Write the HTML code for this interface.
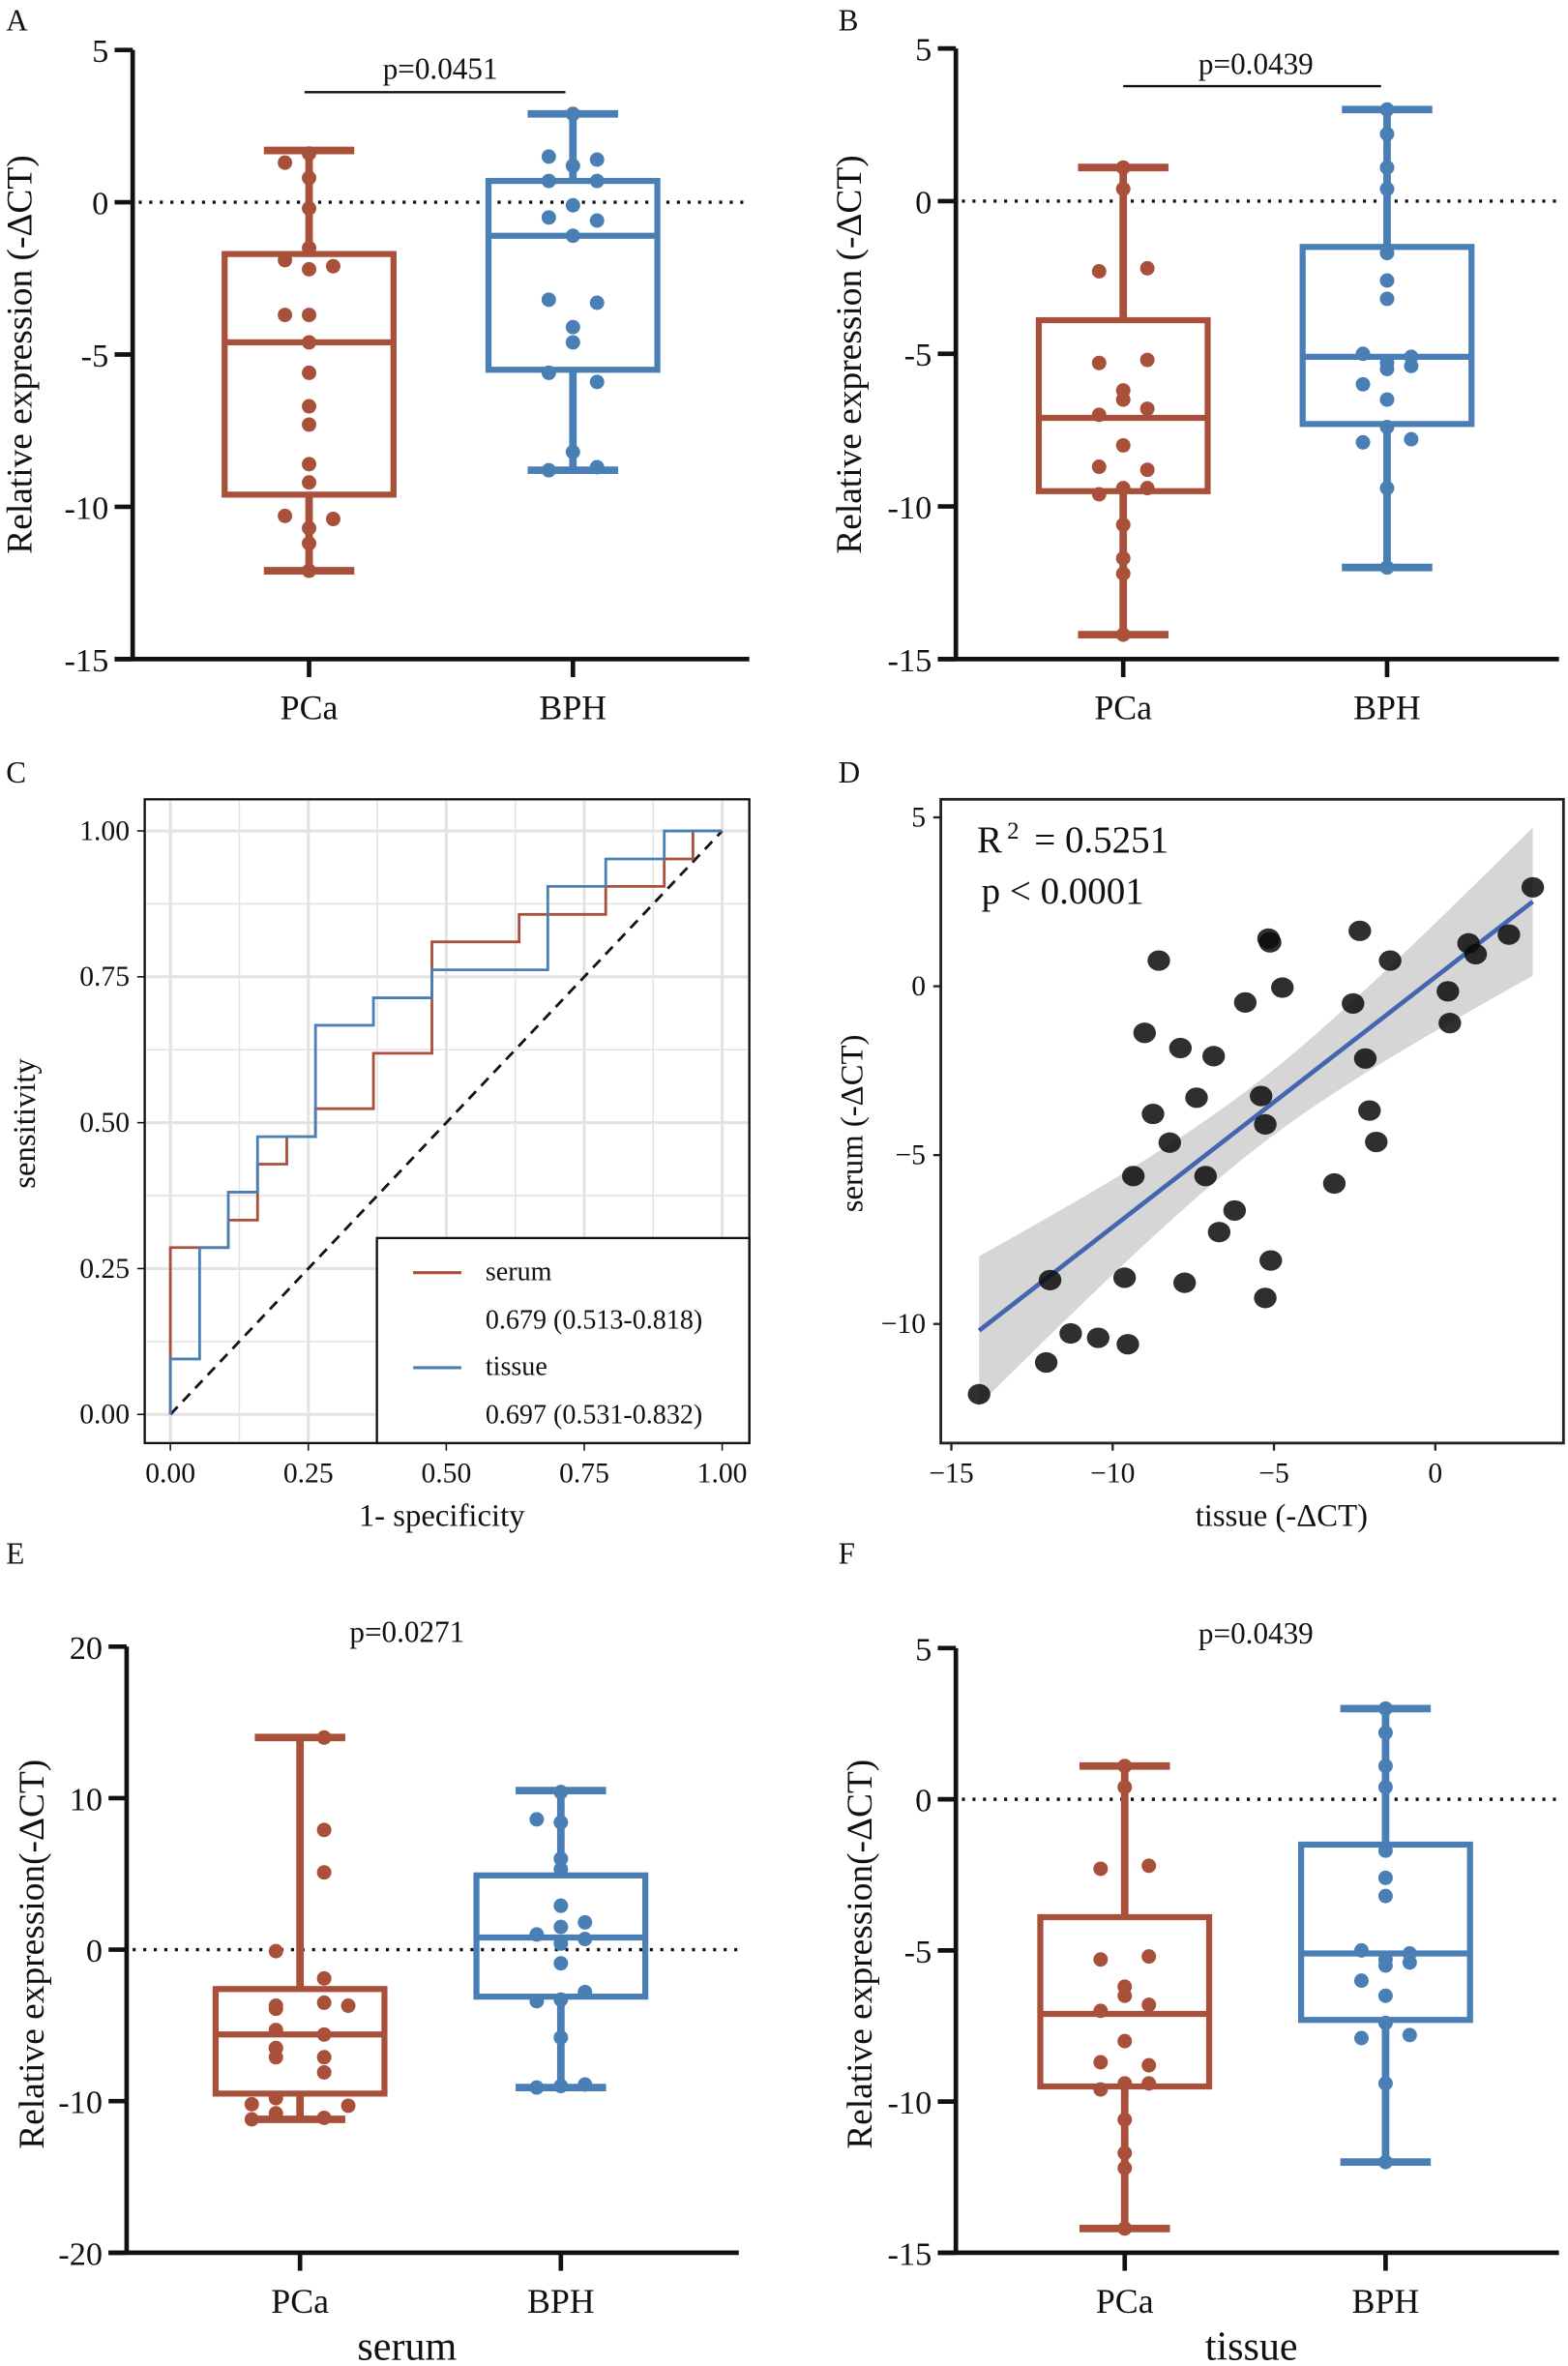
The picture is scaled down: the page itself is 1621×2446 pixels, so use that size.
<!DOCTYPE html>
<html><head><meta charset="utf-8"><style>
html,body{margin:0;padding:0;background:#fff;}
svg{display:block;font-family:"Liberation Serif",serif;}
</style></head><body>
<svg id="fig" width="1621" height="2446" viewBox="0 0 1040 1569" xmlns="http://www.w3.org/2000/svg"></svg>
<script>
// ---------- DATA ----------
const groups = ["PCa","BPH"];
const aPCaStats = [1.7,-1.7,-4.6,-9.6,-12.1];
const aBPHStats = [2.9,0.7,-1.1,-5.5,-8.8];
const aPCaDots = [1.6,1.3,0.8,-0.2,-1.5,-1.9,-2.1,-2.2,-3.7,-3.7,-4.6,-5.6,-6.7,-7.3,-8.6,-9.2,-10.3,-10.4,-10.7,-11.2,-12.1];
const aPCaSide = [0,-1,0,0,0,-1,1,0,-1,0,0,0,0,0,0,0,-1,1,0,0,0];
const aBPHDots = [2.9,1.5,1.2,1.4,0.7,0.7,-0.1,-0.5,-0.6,-1.1,-3.2,-3.3,-4.1,-4.6,-5.6,-5.9,-8.2,-8.8,-8.7];
const aBPHSide = [0,-1,0,1,-1,1,0,-1,1,0,-1,1,0,0,-1,1,0,-1,1];
const bPCaStats = [1.1,-3.9,-7.1,-9.5,-14.2];
const bBPHStats = [3.0,-1.5,-5.1,-7.3,-12.0];
const bPCaDots = [1.1,0.4,-2.3,-2.2,-5.3,-5.2,-6.2,-6.5,-6.8,-7.0,-8.0,-8.7,-8.8,-9.4,-9.6,-9.4,-10.6,-11.7,-12.2,-14.2];
const bPCaSide = [0,0,-1,1,-1,1,0,0,1,-1,0,-1,1,1,-1,0,0,0,0,0];
const bBPHDots = [3.0,2.2,1.1,0.4,-1.7,-2.6,-3.2,-5.0,-5.3,-5.5,-5.1,-5.4,-6.0,-6.5,-7.4,-7.8,-7.9,-9.4,-12.0];
const bBPHSide = [0,0,0,0,0,0,0,-1,0,0,1,1,-1,0,0,1,-1,0,0];
const ePCaStats = [14,-2.6,-5.6,-9.5,-11.2];
const eBPHStats = [10.5,4.9,0.8,-3.1,-9.1];
const ePCaDots = [14,7.9,5.1,-0.1,-1.9,-3.7,-3.9,-3.7,-5.3,-5.6,-6.5,-7.1,-7.1,-8.1,-9.8,-10.2,-10.3,-10.8,-11.1,-11.2,-3.5,-6.5];
const ePCaSide = [1,1,1,-1,1,-1,-1,2,-1,1,-1,-1,1,1,-1,-2,2,-1,1,-2,1,-1];
const eBPHDots = [10.4,8.6,8.4,6.0,5.3,2.9,1.8,1.5,1.0,0.7,0.4,-0.9,-2.8,-3.4,-3.3,-5.8,-9.1,-8.9,-9.0];
const eBPHSide = [0,-1,0,0,0,0,1,0,-1,1,0,0,1,-1,0,0,-1,1,0];
const serumFpr = [0,0,0.105,0.105,0.158,0.158,0.211,0.211,0.263,0.263,0.368,0.368,0.474,0.474,0.632,0.632,0.789,0.789,0.895,0.895,0.947,0.947,1];
const serumTpr = [0,0.286,0.286,0.333,0.333,0.429,0.429,0.476,0.476,0.524,0.524,0.619,0.619,0.81,0.81,0.857,0.857,0.905,0.905,0.952,0.952,1,1];
const tissueFpr = [0,0,0.053,0.053,0.105,0.105,0.158,0.158,0.263,0.263,0.368,0.368,0.474,0.474,0.684,0.684,0.789,0.789,0.895,0.895,1];
const tissueTpr = [0,0.095,0.095,0.286,0.286,0.381,0.381,0.476,0.476,0.667,0.667,0.714,0.714,0.762,0.762,0.905,0.905,0.952,0.952,1,1];
const rocTicks = ["0.00","0.25","0.50","0.75","1.00"];
const tissueX = [-14.14,-12.06,-11.3,-10.45,-9.53,-11.94,-9.63,-7.77,-9.36,-8.23,-8.75,-9.01,-8.57,-7.9,-7.4,-6.87,-7.12,-6.22,-6.7,-5.89,-5.4,-5.27,-5.1,-5.27,-5.17,-5.12,-4.74,-3.13,-2.34,-2.55,-2.17,-2.04,-1.83,-1.4,0.39,0.45,1.03,1.25,2.28,3.02];
const serumY = [-12.08,-11.14,-10.28,-10.41,-10.6,-8.7,-8.63,-8.78,-5.62,-4.63,-3.78,-1.38,0.76,-1.83,-3.3,-2.07,-5.62,-6.64,-7.28,-0.48,-3.25,-4.09,-8.12,-9.23,1.41,1.3,-0.04,-5.84,1.64,-0.51,-2.14,-3.68,-4.61,0.76,-0.15,-1.09,1.27,0.95,1.53,2.93];
const dXTicks = [-15,-10,-5,0];
const dYTicks = [5,0,-5,-10];

const RED="#A9503A", BLUE="#4A7FB5";
const svg=document.getElementById('fig');
const NS="http://www.w3.org/2000/svg";
function el(tag,attrs,parent,name,txt){
  const e=document.createElementNS(NS,tag);
  for(const k in attrs)e.setAttribute(k,attrs[k]);
  
  
  if(txt!==undefined)e.textContent=txt;
  (parent||svg).appendChild(e);return e;
}
function text(x,y,s,size,anchor,name,extra){
  const a=Object.assign({x:x,y:y,'font-size':size,'text-anchor':anchor||'middle',fill:'#111'},extra||{});
  return el('text',a,svg,name,s);
}

function boxPanel(cfg){
  const g=el('g',{},svg,cfg.name);
  const ys=v=>cfg.y0+(cfg.yMax-v)*(cfg.y1-cfg.y0)/(cfg.yMax-cfg.yMin);
  el('line',{x1:cfg.ax,y1:cfg.y0,x2:cfg.ax,y2:cfg.y1,stroke:'#111','stroke-width':3},g,'y-axis');
  el('line',{x1:cfg.ax-12,y1:cfg.y1,x2:cfg.axEnd,y2:cfg.y1,stroke:'#111','stroke-width':3},g,'x-axis');
  cfg.ticks.forEach(t=>{
    el('line',{x1:cfg.ax-12,y1:ys(t),x2:cfg.ax,y2:ys(t),stroke:'#111','stroke-width':3},g,'y-tick');
    el('text',{x:cfg.ax-16,y:ys(t)+8,'font-size':22,'text-anchor':'end',fill:'#111'},g,'y-tick-label',String(t));
  });
  el('line',{x1:cfg.ax+4,y1:ys(0),x2:cfg.axEnd,y2:ys(0),stroke:'#111','stroke-width':2.2,'stroke-dasharray':'2 5'},g,'zero-reference-line');
  const cx=cfg.cx;
  [[cfg.s1,cfg.d1,cfg.side1,RED,'pca'],[cfg.s2,cfg.d2,cfg.side2,BLUE,'bph']].forEach((set,i)=>{
    const [s,d,side,col,nm]=set, x=cx[i];
    el('line',{x1:x,y1:cfg.y1,x2:x,y2:cfg.y1+12,stroke:'#111','stroke-width':3},g,'x-tick');
    el('text',{x:x,y:cfg.y1+40,'font-size':23,'text-anchor':'middle',fill:'#111'},g,'x-tick-label',groups[i]);
    el('line',{x1:x,y1:ys(s[0]),x2:x,y2:ys(s[1]),stroke:col,'stroke-width':5},g,nm+'-upper-whisker');
    el('line',{x1:x,y1:ys(s[3]),x2:x,y2:ys(s[4]),stroke:col,'stroke-width':5},g,nm+'-lower-whisker');
    el('line',{x1:x-30,y1:ys(s[0]),x2:x+30,y2:ys(s[0]),stroke:col,'stroke-width':5},g,nm+'-max-cap');
    el('line',{x1:x-30,y1:ys(s[4]),x2:x+30,y2:ys(s[4]),stroke:col,'stroke-width':5},g,nm+'-min-cap');
    el('rect',{x:x-56,y:ys(s[1]),width:112,height:ys(s[3])-ys(s[1]),fill:'none',stroke:col,'stroke-width':4},g,nm+'-box');
    el('line',{x1:x-56,y1:ys(s[2]),x2:x+56,y2:ys(s[2]),stroke:col,'stroke-width':4},g,nm+'-median');
    d.forEach((v,j)=>{
      el('circle',{cx:x+side[j]*16,cy:ys(v),r:4.8,fill:col},g,nm+'-dot');
    });
  });
}
boxPanel({name:'panel-a',ax:88,axEnd:497,y0:33,y1:437,yMax:5,yMin:-15,ticks:[5,0,-5,-10,-15],cx:[205,380],
  s1:aPCaStats,s2:aBPHStats,d1:aPCaDots,side1:aPCaSide,d2:aBPHDots,side2:aBPHSide});
boxPanel({name:'panel-b',ax:634,axEnd:1034,y0:32,y1:437,yMax:5,yMin:-15,ticks:[5,0,-5,-10,-15],cx:[745,920],
  s1:bPCaStats,s2:bBPHStats,d1:bPCaDots,side1:bPCaSide,d2:bBPHDots,side2:bBPHSide});
boxPanel({name:'panel-e',ax:84,axEnd:490,y0:1092,y1:1494,yMax:20,yMin:-20,ticks:[20,10,0,-10,-20],cx:[199,372],
  s1:ePCaStats,s2:eBPHStats,d1:ePCaDots,side1:ePCaSide,d2:eBPHDots,side2:eBPHSide});
boxPanel({name:'panel-f',ax:634,axEnd:1034,y0:1093,y1:1494,yMax:5,yMin:-15,ticks:[5,0,-5,-10,-15],cx:[746,919],
  s1:bPCaStats,s2:bBPHStats,d1:bPCaDots,side1:bPCaSide,d2:bBPHDots,side2:bBPHSide});

el('line',{x1:202,y1:61,x2:375,y2:61,stroke:'#111','stroke-width':1.5},svg,'significance-bar-a');
text(292,52,'p=0.0451',20,'middle','p-value-a');
el('line',{x1:745,y1:57,x2:916,y2:57,stroke:'#111','stroke-width':1.5},svg,'significance-bar-b');
text(833,49,'p=0.0439',20,'middle','p-value-b');
text(270,1089,'p=0.0271',20,'middle','p-value-e');
text(833,1090,'p=0.0439',20,'middle','p-value-f');
text(270,1565,'serum',27,'middle','x-axis-title-e');
text(830,1565,'tissue',27,'middle','x-axis-title-f');
text(0,0,'Relative expression (-ΔCT)',24,'middle','y-axis-title-a',{transform:'translate(21,235) rotate(-90)'});
text(0,0,'Relative expression (-ΔCT)',24,'middle','y-axis-title-b',{transform:'translate(571,235) rotate(-90)'});
text(0,0,'Relative expression(-ΔCT)',24,'middle','y-axis-title-e',{transform:'translate(29,1296) rotate(-90)'});
text(0,0,'Relative expression(-ΔCT)',24,'middle','y-axis-title-f',{transform:'translate(578,1296) rotate(-90)'});
[['A',4,20],['B',556,20],['C',4,519],['D',556,519],['E',4,1037],['F',556,1037]].forEach(p=>text(p[1],p[2],p[0],20,'start','panel-label-'+p[0].toLowerCase()));

(function(){
  const g=el('g',{},svg,'panel-c');
  const xs=v=>113+v*(479-113), ys=v=>938-v*(938-551);
  for(let i=0;i<=8;i++){
    const v=i/8;
    el('line',{x1:xs(v),y1:531,x2:xs(v),y2:956,stroke:'#e3e3e3','stroke-width':i%2?1:2},g,'grid-line-vertical');
    el('line',{x1:97,y1:ys(v),x2:496,y2:ys(v),stroke:'#e3e3e3','stroke-width':i%2?1:2},g,'grid-line-horizontal');
  }
  el('rect',{x:96,y:530,width:401,height:427,fill:'none',stroke:'#111','stroke-width':1.5},g,'plot-frame');
  rocTicks.forEach((t,i)=>{
    const v=i/4;
    el('line',{x1:xs(v),y1:957,x2:xs(v),y2:962,stroke:'#111'},g,'x-tick');
    el('text',{x:xs(v),y:983,'font-size':19,'text-anchor':'middle',fill:'#111'},g,'x-tick-label',t);
    el('line',{x1:91,y1:ys(v),x2:96,y2:ys(v),stroke:'#111'},g,'y-tick');
    el('text',{x:86,y:ys(v)+6,'font-size':19,'text-anchor':'end',fill:'#111'},g,'y-tick-label',t);
  });
  el('line',{x1:xs(0),y1:ys(0),x2:xs(1),y2:ys(1),stroke:'#111','stroke-width':1.8,'stroke-dasharray':'7 5'},g,'chance-diagonal');
  const pts=(fx,ty)=>fx.map((v,i)=>xs(v)+','+ys(ty[i])).join(' ');
  el('polyline',{points:pts(serumFpr,serumTpr),fill:'none',stroke:RED,'stroke-width':1.8},g,'serum-roc-curve');
  el('polyline',{points:pts(tissueFpr,tissueTpr),fill:'none',stroke:BLUE,'stroke-width':1.8},g,'tissue-roc-curve');
  const lg=el('g',{},g,'legend');
  el('rect',{x:250,y:821,width:247,height:136,fill:'#fff',stroke:'#111','stroke-width':1.5},lg,'legend-box');
  el('line',{x1:274,y1:844,x2:306,y2:844,stroke:RED,'stroke-width':2},lg,'legend-serum-swatch');
  el('text',{x:322,y:849,'font-size':18,fill:'#111'},lg,'legend-serum-label','serum');
  el('text',{x:322,y:881,'font-size':18,fill:'#111'},lg,'legend-serum-auc','0.679 (0.513-0.818)');
  el('line',{x1:274,y1:907,x2:306,y2:907,stroke:BLUE,'stroke-width':2},lg,'legend-tissue-swatch');
  el('text',{x:322,y:912,'font-size':18,fill:'#111'},lg,'legend-tissue-label','tissue');
  el('text',{x:322,y:944,'font-size':18,fill:'#111'},lg,'legend-tissue-auc','0.697 (0.531-0.832)');
  text(293,1012,'1- specificity',21,'middle','x-axis-title-c');
  text(0,0,'sensitivity',21,'middle','y-axis-title-c',{transform:'translate(23,745) rotate(-90)'});
})();

(function(){
  const g=el('g',{},svg,'panel-d');
  const xs=v=>952+v*(952-845)/5, ys=v=>654-v*(766-654)/5;
  const n=tissueX.length, mx=tissueX.reduce((a,b)=>a+b)/n, my=serumY.reduce((a,b)=>a+b)/n;
  let sxx=0,sxy=0; tissueX.forEach((x,i)=>{sxx+=(x-mx)**2;sxy+=(x-mx)*(serumY[i]-my);});
  const b=sxy/sxx,a=my-b*mx;
  let sse=0; tissueX.forEach((x,i)=>{sse+=(serumY[i]-a-b*x)**2;});
  const s=Math.sqrt(sse/(n-2)), t=2.02;
  const xmin=Math.min(...tissueX), xmax=Math.max(...tissueX);
  const up=[],lo=[];
  for(let k=0;k<=40;k++){const x=xmin+(xmax-xmin)*k/40, yh=a+b*x, se=s*Math.sqrt(1/n+(x-mx)**2/sxx);
    up.push(xs(x)+','+ys(yh+t*se)); lo.unshift(xs(x)+','+ys(yh-t*se));}
  el('polygon',{points:up.concat(lo).join(' '),fill:'#d6d6d6'},g,'confidence-band');
  el('line',{x1:xs(xmin),y1:ys(a+b*xmin),x2:xs(xmax),y2:ys(a+b*xmax),stroke:'#4466B0','stroke-width':3},g,'regression-line');
  tissueX.forEach((x,i)=>{
    el('ellipse',{cx:xs(x),cy:ys(serumY[i]),rx:7.5,ry:6.8,fill:'#0a0a0a','fill-opacity':0.85},g,'scatter-point');
  });
  el('rect',{x:624,y:530,width:413,height:427,fill:'none',stroke:'#222','stroke-width':1.8},g,'plot-frame');
  dXTicks.forEach(v=>{
    el('line',{x1:xs(v),y1:957,x2:xs(v),y2:962,stroke:'#222','stroke-width':1.5},g,'x-tick');
    el('text',{x:xs(v),y:983,'font-size':19,'text-anchor':'middle',fill:'#111'},g,'x-tick-label',v<0?'−'+(-v):String(v));
  });
  dYTicks.forEach(v=>{
    el('line',{x1:619,y1:ys(v),x2:624,y2:ys(v),stroke:'#222','stroke-width':1.5},g,'y-tick');
    el('text',{x:614,y:ys(v)+6,'font-size':19,'text-anchor':'end',fill:'#111'},g,'y-tick-label',v<0?'−'+(-v):String(v));
  });
  text(850,1012,'tissue (-ΔCT)',21,'middle','x-axis-title-d');
  text(0,0,'serum (-ΔCT)',21,'middle','y-axis-title-d',{transform:'translate(572,745) rotate(-90)'});
  text(648,565,'R',25,'start','r-squared-label');
  text(668,556,'2',16,'start','r-squared-exponent');
  text(686,565,'= 0.5251',25,'start','r-squared-value');
  text(651,599,'p < 0.0001',25,'start','p-value-d');
})();
</script>
</body></html>
